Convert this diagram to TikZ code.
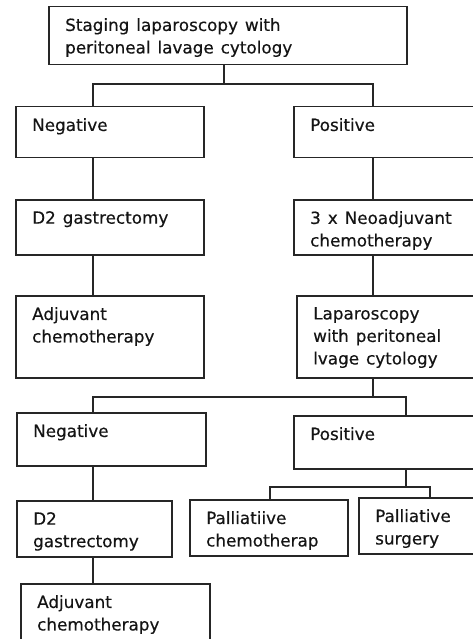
\documentclass[tikz,border=0pt]{standalone}
\usepackage{fontspec}
\setmainfont{DejaVu Sans}[WordSpace=1.3,FakeBold=0.4]
\begin{document}
\begin{tikzpicture}[x=1pt,y=-1pt,
  box/.style={draw=black!85, line width=1.5pt, rectangle, inner sep=0pt, anchor=north west},
  txt/.style={anchor=north west, inner sep=0pt, align=left, text=black!92,
    font=\fontsize{16.8}{22.5}\selectfont},
  link/.style={draw=black!85, line width=1.5pt}]
\useasboundingbox (0,0) rectangle (472,639);
\fill[white] (0,0) rectangle (472,639);
% boxes: name, top-left, size
\newcommand{\mybox}[6]{%
  \node[box, minimum width=#4, minimum height=#5] (#1) at (#2,#3) {};
  \node[txt] (#1t) at ([shift={(17,12)}]#1.north west) {#6};}
\mybox{top}{48}{6}{358}{58}{Staging laparoscopy with\\peritoneal lavage cytology}
\mybox{negA}{15}{106}{188}{51}{Negative}
\mybox{posA}{293}{106}{183}{51}{Positive}
\mybox{dA}{15}{199}{188}{55}{D2 gastrectomy}
\mybox{neo}{293}{199}{183}{55}{3 x Neoadjuvant\\chemotherapy}
\mybox{adjA}{15}{295}{188}{82}{Adjuvant\\chemotherapy}
\mybox{lap}{296}{295}{180}{82}{Laparoscopy\\with peritoneal\\lvage cytology}
\mybox{negB}{16}{412}{189}{53}{Negative}
\mybox{posB}{293}{415}{183}{53}{Positive}
\mybox{pc}{189}{499}{158}{56}{Palliatiive\\chemotherap}
\mybox{ps}{358}{497}{118}{56}{Palliative\\surgery}
\mybox{dB}{16}{500}{155}{56}{D2\\gastrectomy}
\mybox{adjB}{20}{583}{189}{60}{Adjuvant\\chemotherapy}
% junctions
\coordinate (j1) at (224,84);
\coordinate (j1l) at (93,84);
\coordinate (j1r) at (373,84);
\coordinate (j2) at (373,397);
\coordinate (j2l) at (93,397);
\coordinate (j2r) at (406,397);
\coordinate (j3) at (406,487);
\coordinate (j3l) at (270,487);
\coordinate (j3r) at (430,487);
% connectors
\draw[link] (top.south -| j1) -- (j1);
\draw[link] (negA.north -| j1l) -- (j1l) -- (j1r) -- (posA.north -| j1r);
\draw[link] (negA.south -| j1l) -- (dA.north -| j1l);
\draw[link] (posA.south -| j1r) -- (neo.north -| j1r);
\draw[link] (dA.south -| j1l) -- (adjA.north -| j1l);
\draw[link] (neo.south -| j1r) -- (lap.north -| j1r);
\draw[link] (lap.south -| j2) -- (j2);
\draw[link] (negB.north -| j2l) -- (j2l) -- (j2r) -- (posB.north -| j2r);
\draw[link] (negB.south -| j2l) -- (dB.north -| j2l);
\draw[link] (dB.south -| j2l) -- (adjB.north -| j2l);
\draw[link] (posB.south -| j3) -- (j3);
\draw[link] (pc.north -| j3l) -- (j3l) -- (j3r) -- (ps.north -| j3r);
\end{tikzpicture}
\end{document}
